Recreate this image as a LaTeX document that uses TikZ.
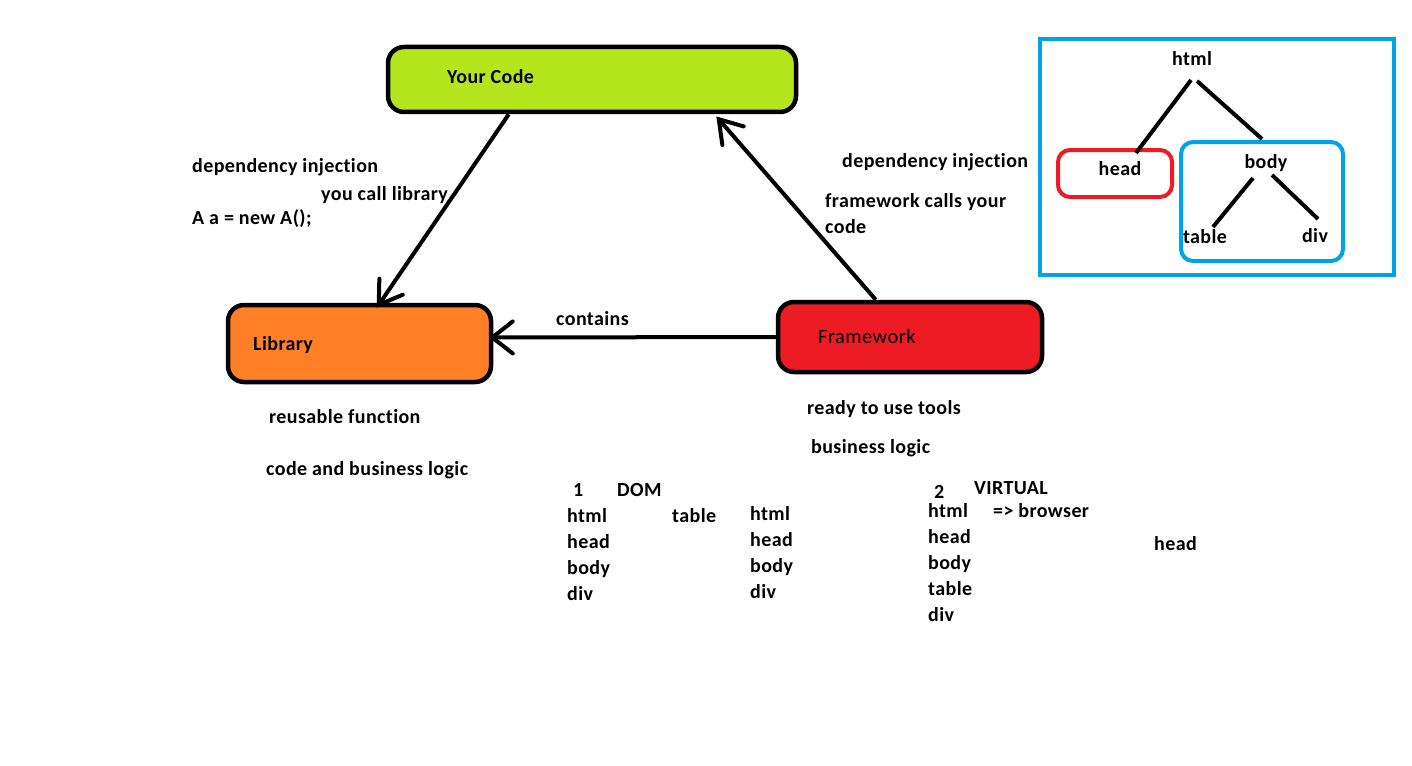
\documentclass[tikz,border=0pt]{standalone}
\usepackage{fontspec}
\setmainfont{Carlito}[Ligatures=NoCommon,LetterSpace=2]
\usetikzlibrary{calc}
\definecolor{limeg}{HTML}{B5E61D}
\definecolor{orangeb}{HTML}{FF7F27}
\definecolor{redb}{HTML}{ED1C24}
\definecolor{blueb}{HTML}{00A2E8}
\begin{document}
\begin{tikzpicture}[x=1pt,y=-1pt,
  txt/.style={anchor=base west,inner sep=0pt,font=\fontsize{20}{24}\selectfont\bfseries},
  ctxt/.style={anchor=base,inner sep=0pt,font=\fontsize{20}{24}\selectfont\bfseries},
  bigbox/.style={draw=black,line width=4.5pt,rounded corners=16pt,inner sep=0pt},
  arr/.style={line width=4pt},
  barb/.style={line width=4pt,line cap=round},
  tline/.style={line width=4pt},
  frame/.style={line width=4pt,rounded corners=12pt,inner sep=0pt}]
\useasboundingbox (0,0) rectangle (1412,765);

% main boxes
\node[bigbox,fill=limeg,minimum width=408pt,minimum height=65pt] (code) at (592,79.5) {};
\node[bigbox,fill=orangeb,minimum width=263pt,minimum height=77pt] (lib) at (359.5,343.5) {};
\node[bigbox,fill=redb,minimum width=264pt,minimum height=70pt] (fw) at (910,337) {};
\node[txt] (codet) at (447,84) {Your Code};
\node[txt] (libt) at (253,350) {Library};
\node[anchor=base west,inner sep=0pt,font=\fontsize{20.5}{24}\selectfont] (fwt) at (818,343) {Framework};

% arrows
\coordinate (a1s) at ([xshift=123pt]code.south west);
\coordinate (a1e) at ([xshift=153pt,yshift=-2pt]lib.north west);
\coordinate (a2s) at ([xshift=100pt]fw.north west);
\coordinate (a2e) at ([xshift=333pt,yshift=-5pt]code.south west);
\coordinate (a3s) at (fw.west);
\coordinate (a3e) at ([yshift=6pt,xshift=-1pt]lib.east);
\draw[arr] (a1s) -- (a1e);
\draw[barb] ($(a1e)!26pt!33:(a1s)$) -- (a1e) -- ($(a1e)!26pt!-33:(a1s)$);
\draw[arr] (a2s) -- (a2e);
\draw[barb] ($(a2e)!26pt!33:(a2s)$) -- (a2e) -- ($(a2e)!26pt!-33:(a2s)$);
\draw[arr] (a3s) -- (a3e);
\draw[barb] ($(a3e)!26pt!38:(a3s)$) -- (a3e) -- ($(a3e)!26pt!-38:(a3s)$);

% labels
\node[txt] (l1) at (192,172) {dependency injection};
\node[txt] (l2) at (321,200) {you call library};
\node[txt] (l3) at (192,224) {A a = new A();};
\node[txt] (l4) at (842,167) {dependency injection};
\node[txt] (l5) at (825,207) {framework calls your};
\node[txt] (l6) at (825,233) {code};
\node[txt] (l7) at (556,325) {contains};
\node[txt] (l8) at (269,423) {reusable function};
\node[txt] (l9) at (266,475) {code and business logic};
\node[txt] (l10) at (807,414) {ready to use tools};
\node[txt] (l11) at (811,453) {business logic};

% DOM list
\node[txt] (n1) at (573,496) {1};
\node[txt] (dom) at (617,496) {DOM};
\node[txt] (d1) at (567,522) {html};
\node[txt] (d2) at (567,548) {head};
\node[txt] (d3) at (567,574) {body};
\node[txt] (d4) at (567,600) {div};
\node[txt] (dt) at (672,522) {table};
\node[txt] (e1) at (750,520) {html};
\node[txt] (e2) at (750,546) {head};
\node[txt] (e3) at (750,572) {body};
\node[txt] (e4) at (750,598) {div};

% VIRTUAL list
\node[txt] (n2) at (934,498) {2};
\node[txt] (virt) at (974,494) {VIRTUAL};
\node[txt] (v1) at (928,517) {html};
\node[txt] (vb) at (993,517) {=> browser};
\node[txt] (v2) at (928,543) {head};
\node[txt] (v3) at (928,569) {body};
\node[txt] (v4) at (928,595) {table};
\node[txt] (v5) at (928,621) {div};
\node[txt] (h2) at (1154,550) {head};

% tree
\node[draw=blueb,line width=4pt,minimum width=354pt,minimum height=236pt,inner sep=0pt] (treebox) at (1217,157) {};
\node[frame,draw=redb,minimum width=114pt,minimum height=47pt] (headbox) at (1115,173.5) {};
\node[frame,draw=blueb,minimum width=162pt,minimum height=119pt] (bodybox) at (1262,201.5) {};
\node[ctxt] (html) at (1192,66) {html};
\node[ctxt] (head) at (1120,175) {head};
\node[ctxt] (body) at (1266,168) {body};
\node[ctxt] (table) at (1205,243) {table};
\node[ctxt] (div) at (1315,242) {div};
\coordinate (t1) at (1191,80);
\coordinate (t2) at (1136,153);
\coordinate (t3) at (1197,81);
\coordinate (t4) at (1262,139);
\coordinate (t5) at (1253,178);
\coordinate (t6) at (1213,227);
\coordinate (t7) at (1272,175);
\coordinate (t8) at (1318,219);
\draw[tline] (t1) -- (t2);
\draw[tline] (t3) -- (t4);
\draw[tline] (t5) -- (t6);
\draw[tline] (t7) -- (t8);
\end{tikzpicture}
\end{document}
